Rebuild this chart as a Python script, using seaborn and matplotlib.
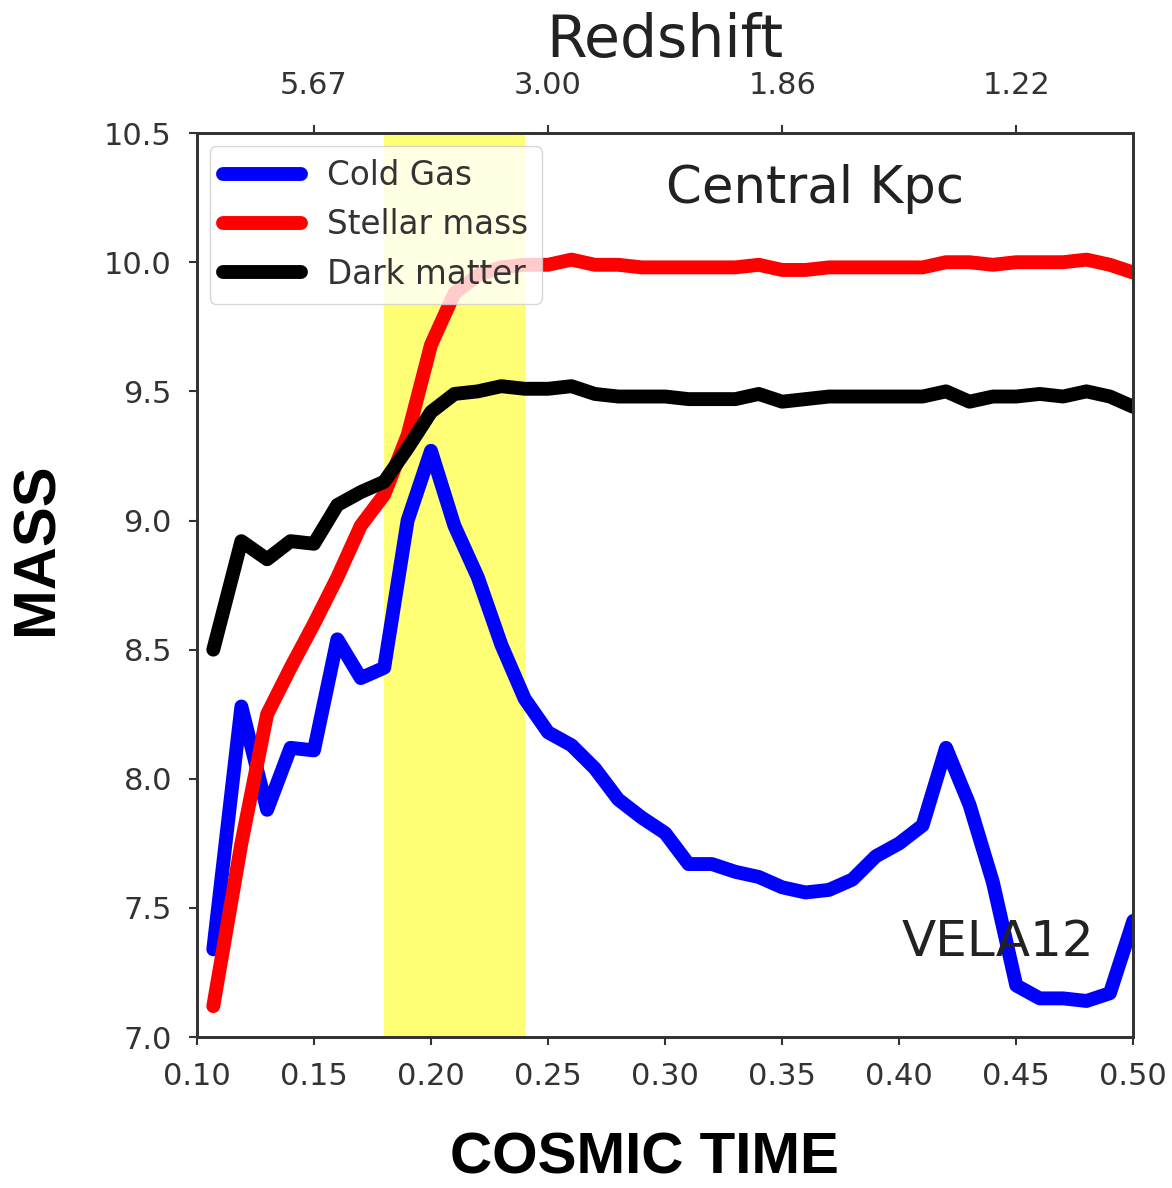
import numpy as np
import pandas as pd
import matplotlib
matplotlib.use("Agg")
import matplotlib.pyplot as plt
import seaborn as sns

# ─── Data ─────────────────────────────────────────────────────────────────────
cosmic_time = [0.107, 0.119, 0.13, 0.14, 0.15, 0.16, 0.17, 0.18, 0.19, 0.20,
               0.21, 0.22, 0.23, 0.24, 0.25, 0.26, 0.27, 0.28, 0.29, 0.30,
               0.31, 0.32, 0.33, 0.34, 0.35, 0.36, 0.37, 0.38, 0.39, 0.40,
               0.41, 0.42, 0.43, 0.44, 0.45, 0.46, 0.47, 0.48, 0.49, 0.50]

cold_gas = [7.34, 8.28, 7.88, 8.12, 8.11, 8.54, 8.39, 8.43, 9.00, 9.27,
            8.98, 8.78, 8.52, 8.31, 8.18, 8.13, 8.04, 7.92, 7.85, 7.79,
            7.67, 7.67, 7.64, 7.62, 7.58, 7.56, 7.57, 7.61, 7.70, 7.75,
            7.82, 8.12, 7.90, 7.60, 7.20, 7.15, 7.15, 7.14, 7.17, 7.45]

stellar_mass = [7.12, 7.75, 8.25, 8.43, 8.60, 8.78, 8.98, 9.10, 9.33, 9.68,
                9.88, 9.95, 9.98, 9.99, 9.99, 10.01, 9.99, 9.99, 9.98, 9.98,
                9.98, 9.98, 9.98, 9.99, 9.97, 9.97, 9.98, 9.98, 9.98, 9.98,
                9.98, 10.00, 10.00, 9.99, 10.00, 10.00, 10.00, 10.01, 9.99, 9.96]

dark_matter = [8.50, 8.92, 8.85, 8.92, 8.91, 9.06, 9.11, 9.15, 9.28, 9.42,
               9.49, 9.50, 9.52, 9.51, 9.51, 9.52, 9.49, 9.48, 9.48, 9.48,
               9.47, 9.47, 9.47, 9.49, 9.46, 9.47, 9.48, 9.48, 9.48, 9.48,
               9.48, 9.50, 9.46, 9.48, 9.48, 9.49, 9.48, 9.50, 9.48, 9.44]

series_names  = ["Cold Gas", "Stellar mass", "Dark matter"]
series_colors = ["blue", "red", "black"]

highlight_span = (0.18, 0.24)

redshift_ticks  = [0.15, 0.25, 0.35, 0.45]
redshift_labels = ["5.67", "3.00", "1.86", "1.22"]

x_ticks = [0.10, 0.15, 0.20, 0.25, 0.30, 0.35, 0.40, 0.45, 0.50]
y_ticks = [7.0, 7.5, 8.0, 8.5, 9.0, 9.5, 10.0, 10.5]

# ─── Long-form table ──────────────────────────────────────────────────────────
df = pd.concat([
    pd.DataFrame({"time": cosmic_time, "mass": vals, "component": name})
    for name, vals in zip(series_names, [cold_gas, stellar_mass, dark_matter])
], ignore_index=True)

sns.set_theme(style="ticks")
plt.rcParams["font.family"] = ["DejaVu Sans"]

TICK_FS = 22

fig = plt.figure(figsize=(11.72, 11.88), dpi=100)
ax = fig.add_axes([0.168, 0.127, 0.799, 0.761])

ax.axvspan(*highlight_span, color="#ffff66", alpha=0.9, lw=0, zorder=0)

sns.lineplot(data=df, x="time", y="mass", hue="component",
             hue_order=series_names, palette=series_colors,
             linewidth=10, sort=False, ax=ax, zorder=2)

ax.set_xlim(0.10, 0.50)
ax.set_ylim(7.0, 10.5)
ax.set_xticks(x_ticks)
ax.set_xticklabels([f"{t:.2f}" for t in x_ticks])
ax.set_yticks(y_ticks)
ax.set_yticklabels([f"{t:.1f}" for t in y_ticks])
ax.tick_params(axis="both", labelsize=TICK_FS, colors="#333333",
               length=6, width=1.5, direction="out")
ax.tick_params(axis="x", pad=12)
ax.tick_params(axis="y", pad=12)
for s in ax.spines.values():
    s.set_color("#333333")
    s.set_linewidth(2)

ax.set_xlabel("COSMIC TIME", fontsize=42, fontweight="bold",
              family="Liberation Sans", color="black")
ax.set_ylabel("MASS", fontsize=43, fontweight="bold",
              family="Liberation Sans", color="black")
ax.xaxis.set_label_coords(0.478, -0.104)
ax.yaxis.set_label_coords(-0.141, 0.54)

handles, labels = ax.get_legend_handles_labels()
leg = ax.legend(handles, labels, loc="upper left", fontsize=23.5,
                handlelength=2.4, framealpha=0.8, borderaxespad=0.4)
for h in leg.get_lines():
    h.set_linewidth(10)
for t in leg.get_texts():
    t.set_color("#333333")

ax.text(0.66, 0.938, "Central Kpc", transform=ax.transAxes,
        ha="center", va="center", fontsize=37, color="#222222")
ax.text(0.855, 0.105, "VELA12", transform=ax.transAxes,
        ha="center", va="center", fontsize=36, color="#222222", zorder=3)

# Top axis: redshift
top = ax.twiny()
top.set_xlim(ax.get_xlim())
top.set_xticks(redshift_ticks)
top.set_xticklabels(redshift_labels)
top.tick_params(axis="x", labelsize=TICK_FS, colors="#333333",
                length=6, width=1.5, direction="out", pad=18)
top.set_xlabel("Redshift", fontsize=42, color="#222222", labelpad=10)
for s in top.spines.values():
    s.set_color("#333333")
    s.set_linewidth(2)

fig.savefig("out.png", dpi=100)
